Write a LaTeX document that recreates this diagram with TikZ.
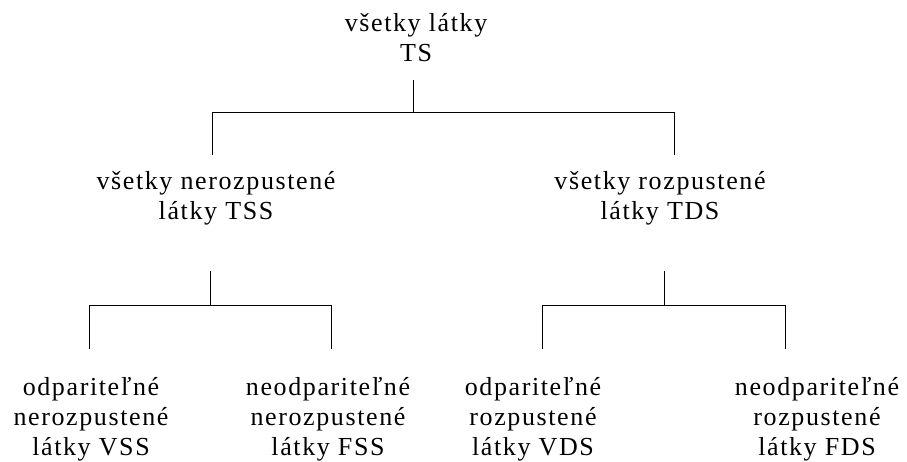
\documentclass[tikz,border=0pt]{standalone}
\usepackage{fontspec}
\setmainfont[LetterSpace=6.2]{Liberation Serif}
\usetikzlibrary{positioning}

\begin{document}
\begin{tikzpicture}[x=1pt, y=-1pt]
        % styles
        \tikzstyle{item} = [inner sep=0pt, align=center, anchor=base, font=\fontsize{26}{30}\selectfont]
        \tikzstyle{branch} = [draw, line width=1pt]

        \useasboundingbox (0,0) rectangle (907,461);

        % top level
        \node[item] (ts) at (416,61) {všetky látky\\TS};

        % second level
        \node[item] (tss) at (216,219) {všetky nerozpustené\\látky TSS};
        \node[item] (tds) at (660,219) {všetky rozpustené\\látky TDS};

        % third level
        \node[item] (vss) at (91,455) {odpariteľné\\nerozpustené\\látky VSS};
        \node[item] (fss) at (328,455) {neodpariteľné\\nerozpustené\\látky FSS};
        \node[item] (vds) at (533,455) {odpariteľné\\rozpustené\\látky VDS};
        \node[item] (fds) at (817,455) {neodpariteľné\\rozpustené\\látky FDS};

        % joints
        \coordinate (ts-stem) at (413,80);
        \coordinate (ts-fork) at (413,112);
        \coordinate (tss-top) at (212,155);
        \coordinate (tds-top) at (674,155);
        \coordinate (tss-stem) at (210,271);
        \coordinate (tss-fork) at (210,305);
        \coordinate (vss-top) at (89,349);
        \coordinate (fss-top) at (331,349);
        \coordinate (tds-stem) at (664,271);
        \coordinate (tds-fork) at (664,305);
        \coordinate (vds-top) at (542,349);
        \coordinate (fds-top) at (785,349);

        % lines
        \draw[branch] (ts-stem) -- (ts-fork) -| (tss-top);
        \draw[branch] (ts-fork) -| (tds-top);
        \draw[branch] (tss-stem) -- (tss-fork) -| (vss-top);
        \draw[branch] (tss-fork) -| (fss-top);
        \draw[branch] (tds-stem) -- (tds-fork) -| (vds-top);
        \draw[branch] (tds-fork) -| (fds-top);
\end{tikzpicture}
\end{document}
